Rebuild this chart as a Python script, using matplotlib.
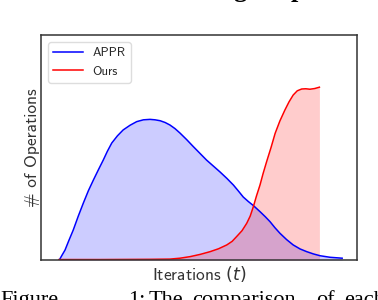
import numpy as np
import matplotlib
matplotlib.use('Agg')
import matplotlib.pyplot as plt

# DATA ------------------------------------------------------------------------
# iteration position (0-100 across the axis) and # of operations (0-100 scale)
appr_x = [5.8, 6.6, 7.6, 8.8, 10.2, 11.8, 13.4, 15.0, 16.6, 18.2, 19.7, 21.0,
          22.4, 24.2, 26.0, 28.2, 30.3, 32.4, 34.5, 36.1, 37.7, 39.3, 40.8,
          42.4, 44.0, 46.1, 48.2, 50.3, 52.4, 54.5, 56.6, 58.8, 60.9, 62.5,
          64.0, 65.6, 67.2, 69.3, 71.0, 72.5, 74.0, 75.6, 77.7, 79.8, 82.0,
          84.1, 86.2, 88.3, 91.5, 95.3]
appr_y = [0.0, 2.0, 4.4, 8.6, 13.3, 19.5, 25.3, 30.8, 35.6, 40.2, 44.4, 48.3,
          52.0, 55.2, 57.8, 59.9, 61.5, 62.3, 62.5, 62.3, 61.9, 61.1, 60.0,
          58.4, 56.4, 53.5, 50.4, 47.4, 44.4, 41.8, 39.2, 36.3, 33.3, 30.6,
          28.0, 26.0, 24.2, 21.5, 19.2, 17.0, 14.4, 11.9, 9.1, 6.7, 4.9,
          3.7, 2.7, 1.9, 1.2, 0.8]

ours_x = [5.7, 18.7, 34.5, 40.8, 44.0, 47.2, 50.4, 53.5, 56.2, 58.8, 60.5,
          61.9, 63.6, 65.1, 66.2, 67.2, 68.2, 69.3, 70.3, 71.4, 72.8, 74.1,
          75.6, 77.2, 78.5, 79.8, 81.1, 82.5, 83.8, 85.1, 86.6, 88.1]
ours_y = [0.2, 0.2, 0.3, 0.4, 0.8, 1.5, 2.5, 3.7, 5.0, 6.7, 8.3,
          10.4, 13.0, 16.3, 19.5, 23.7, 28.5, 33.3, 38.5, 43.7, 50.0, 56.3,
          61.8, 66.7, 70.3, 73.3, 75.2, 76.0, 76.1, 75.9, 76.2, 76.8]

caption_words = ['Figure', '1:', 'The', 'comparison', 'of', 'each']
caption_x = [0, 128, 149, 192, 316, 344]   # pixels
title_bits = ['g', 'p']
title_x = [233, 291]
# END DATA --------------------------------------------------------------------

W, H = 378, 300
fig = plt.figure(figsize=(W / 100, H / 100), dpi=100)
ax = fig.add_axes([41 / W, 40 / H, 316 / W, 225 / H])

lab_font = 'cmss10'
plt.rcParams['mathtext.fontset'] = 'cm'
plt.rcParams['axes.unicode_minus'] = False

ax.fill_between(appr_x, appr_y, 0, color='blue', alpha=0.2, linewidth=0)
ax.fill_between(ours_x, ours_y, 0, color='red', alpha=0.2, linewidth=0)
ax.plot(appr_x, appr_y, color='blue', linewidth=1.1, label='APPR')
ax.plot(ours_x, ours_y, color='red', linewidth=1.1, label='Ours')

ax.set_xlim(0, 100)
ax.set_ylim(0, 100)
ax.set_xticks([])
ax.set_yticks([])
for s in ax.spines.values():
    s.set_color('#333333')
    s.set_linewidth(1.1)

ax.set_xlabel(r'Iterations $(t)$', fontfamily=lab_font, fontsize=12.5,
              color='#333333', labelpad=3)
ax.set_ylabel('# of Operations', fontfamily=lab_font, fontsize=12.5,
              color='#333333', labelpad=1)

leg = ax.legend(loc='upper left', prop={'family': lab_font, 'size': 9.2},
                handlelength=2.3, fancybox=True, framealpha=1,
                edgecolor='#dddddd', borderaxespad=0.55)
for t in leg.get_texts():
    t.set_color('#262626')

# cropped page text above and below the figure
for w, px in zip(caption_words, caption_x):
    fig.text(px / W, -5 / H, w, fontfamily='Liberation Serif', fontsize=16,
             va='baseline', ha='left', color='black')
for w, px in zip(title_bits, title_x):
    fig.text(px / W, 1 + 3 / H, w, fontfamily='Liberation Serif', fontsize=19,
             fontweight='bold', va='baseline', ha='left', color='black')

fig.savefig('out.png', dpi=100)
